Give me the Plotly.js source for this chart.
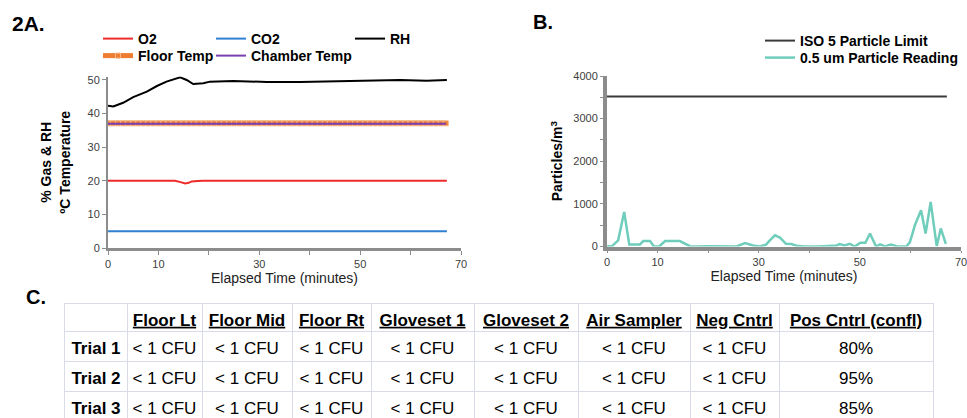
<!DOCTYPE html>
<html>
<head>
<meta charset="utf-8">
<script src="https://cdn.plot.ly/plotly-3.0.1.min.js"></script>
<style>
  html, body { margin: 0; padding: 0; background: #ffffff; }
  #chart { width: 967px; height: 418px; }
</style>
</head>
<body>
<div id="chart"></div>
<script>
// ---------- Panel A data (minutes, values) ----------
const rhMinutes = [0, 1.05, 3.0, 5.0, 7.7, 9.7, 11.6, 13.2, 14.3, 15.6, 16.9, 18.9, 20.2, 24.8, 31.5, 38.1, 44.6, 51.3, 57.9, 63.2, 67.2];
const rhValues  = [42.3, 42.1, 43.2, 44.9, 46.5, 48.2, 49.5, 50.4, 50.8, 50.0, 48.8, 49.0, 49.5, 49.7, 49.4, 49.4, 49.6, 49.9, 50.0, 49.8, 50.0];

const o2Minutes = [0, 13.3, 14.4, 15.3, 16.0, 16.6, 17.8, 18.9, 67.2];
const o2Values  = [20.0, 20.0, 19.6, 19.2, 19.4, 19.8, 19.9, 20.0, 20.0];

const co2Minutes = [0, 14.5, 15.5, 17.0, 18.0, 67.2];
const co2Values  = [5.0, 5.0, 4.8, 4.8, 5.0, 5.0];

const tempMinutes = [0,1,2,3,4,5,6,7,8,9,10,11,12,13,14,15,16,17,18,19,20,21,22,23,24,25,26,27,28,29,30,31,32,33,34,35,36,37,38,39,40,41,42,43,44,45,46,47,48,49,50,51,52,53,54,55,56,57,58,59,60,61,62,63,64,65,66,67];
const floorTemp = [37.1,37.1,37.1,37.1,37.1,37.1,37.1,37.1,37.1,37.1,37.1,37.1,37.1,37.1,37.1,37.1,37.1,37.1,37.1,37.1,37.1,37.1,37.1,37.1,37.1,37.1,37.1,37.1,37.1,37.1,37.1,37.1,37.1,37.1,37.1,37.1,37.1,37.1,37.1,37.1,37.1,37.1,37.1,37.1,37.1,37.1,37.1,37.1,37.1,37.1,37.1,37.1,37.1,37.1,37.1,37.1,37.1,37.1,37.1,37.1,37.1,37.1,37.1,37.1,37.1,37.1,37.1,37.1];
const chamberTemp = [37.0,37.0,37.0,37.0,37.0,37.0,37.0,37.0,37.0,37.0,37.0,37.0,37.0,37.0,37.0,37.0,37.0,37.0,37.0,37.0,37.0,37.0,37.0,37.0,37.0,37.0,37.0,37.0,37.0,37.0,37.0,37.0,37.0,37.0,37.0,37.0,37.0,37.0,37.0,37.0,37.0,37.0,37.0,37.0,37.0,37.0,37.0,37.0,37.0,37.0,37.0,37.0,37.0,37.0,37.0,37.0,37.0,37.0,37.0,37.0,37.0,37.0,37.0,37.0,37.0,37.0,37.0,37.0];

const aTickVals = [0, 10, 20, 30, 40, 50, 60, 70];
const aTickText = ['0', '10', '', '30', '', '50', '', '70'];
const aYTickVals = [0, 10, 20, 30, 40, 50];

// ---------- Panel B data ----------
const isoMinutes = [0, 67.2];
const isoLimit   = [3520, 3520];

const particleMinutes = [0, 1.0, 2.2, 3.4, 4.4, 6.5, 7.2, 8.5, 9.3, 10.3, 11.5, 14.4, 16.4, 18.0, 20.0, 22.0, 24.0, 25.6, 27.3, 28.9, 30.2, 31.4, 32.2, 33.2, 34.2, 35.4, 36.5, 37.5, 39.0, 42.0, 45.4, 46.0, 47.0, 48.0, 49.0, 50.1, 51.1, 52.0, 53.2, 54.0, 55.0, 56.1, 57.3, 58.2, 59.2, 59.9, 60.9, 62.1, 63.0, 64.0, 65.2, 66.0, 67.0];
const particleValues  = [0, 10, 144, 808, 48, 48, 128, 128, 0, 0, 128, 128, 8, 0, 8, 0, 0, 0, 80, 24, 0, 40, 144, 264, 208, 64, 56, 16, 0, 0, 24, 56, 24, 64, 0, 88, 88, 304, 0, 48, 0, 48, 8, 0, 0, 104, 504, 848, 304, 1048, 8, 424, 64];

const bTickVals = [0, 10, 20, 30, 40, 50, 60, 70];
const bTickText = ['0', '10', '', '30', '', '50', '', '70'];
const bYTickVals = [0, 500, 1000, 1500, 2000, 2500, 3000, 3500, 4000];
const bYTickText = ['0', '', '1000', '', '2000', '', '3000', '', '4000'];

// ---------- Panel C table data ----------
const sampleSites = ['Floor Lt', 'Floor Mid', 'Floor Rt', 'Gloveset 1', 'Gloveset 2', 'Air Sampler', 'Neg Cntrl', 'Pos Cntrl (confl)'];
const trials = ['Trial 1', 'Trial 2', 'Trial 3'];
const floorLt    = ['< 1 CFU', '< 1 CFU', '< 1 CFU'];
const floorMid   = ['< 1 CFU', '< 1 CFU', '< 1 CFU'];
const floorRt    = ['< 1 CFU', '< 1 CFU', '< 1 CFU'];
const gloveset1  = ['< 1 CFU', '< 1 CFU', '< 1 CFU'];
const gloveset2  = ['< 1 CFU', '< 1 CFU', '< 1 CFU'];
const airSampler = ['< 1 CFU', '< 1 CFU', '< 1 CFU'];
const negCntrl   = ['< 1 CFU', '< 1 CFU', '< 1 CFU'];
const posCntrl   = ['80%', '95%', '85%'];
const resultColumns = [floorLt, floorMid, floorRt, gloveset1, gloveset2, airSampler, negCntrl, posCntrl];

// ---------- table geometry (layout only) ----------
const colWidths = [62, 75, 90, 79, 103, 104, 112, 89, 154];   // pixels
const rowHeights = [27, 30, 30, 30];                           // header + 3 trials
const textDrop = 4;                                            // text sits slightly low in each row

const colEdges = [0];
colWidths.forEach(w => colEdges.push(colEdges[colEdges.length - 1] + w));
const colCenters = colWidths.map((w, i) => colEdges[i] + w / 2);
const rowEdges = [0];
rowHeights.forEach(h => rowEdges.push(rowEdges[rowEdges.length - 1] + h));
const rowCenters = rowHeights.map((h, i) => rowEdges[i] + h / 2 + textDrop);

// ---------- build ----------
const FONT = 'Liberation Sans, Arial, Helvetica, sans-serif';
const W = 967, H = 418;
const px = v => v / W;            // pixel x -> paper
const py = v => 1 - v / H;        // pixel y (from top) -> paper
const esc = s => s.replace(/</g, '&lt;');

const tableTop = 304, tableLeft = 65;
const tableVisible = H - tableTop;      // pixels of the table that fit in the picture
const tableFont = { family: FONT, size: 17, color: '#000000' };

// header cells
const headerX = sampleSites.map((s, i) => colCenters[i + 1]);
const headerY = sampleSites.map(() => rowCenters[0]);
const headerText = sampleSites.map(s => '<b><u>' + s + '</u></b>');
// row label cells
const labelX = trials.map(() => colCenters[0]);
const labelY = trials.map((t, r) => rowCenters[r + 1]);
const labelText = trials.map(t => '<b>' + t + '</b>');
// result cells
const cellX = [], cellY = [], cellText = [];
resultColumns.forEach((col, c) => col.forEach((v, r) => {
  cellX.push(colCenters[c + 1]); cellY.push(rowCenters[r + 1]); cellText.push(esc(v));
}));

const traces = [
  { type: 'scatter', mode: 'lines', name: 'O2', x: o2Minutes, y: o2Values,
    line: { color: '#ee2a2a', width: 2 }, xaxis: 'x', yaxis: 'y', legend: 'legend' },
  { type: 'scatter', mode: 'lines', name: 'CO2', x: co2Minutes, y: co2Values,
    line: { color: '#2f7fd2', width: 2 }, xaxis: 'x', yaxis: 'y', legend: 'legend2' },
  { type: 'scatter', mode: 'lines', name: 'RH', x: rhMinutes, y: rhValues,
    line: { color: '#000000', width: 2 }, xaxis: 'x', yaxis: 'y', legend: 'legend3' },
  { type: 'scatter', mode: 'lines+markers', name: 'Floor Temp', x: tempMinutes, y: floorTemp,
    line: { color: '#ee7d31', width: 5 },
    marker: { symbol: 'square', size: 5, color: '#ee7d31', line: { color: '#f6b98c', width: 1 } },
    xaxis: 'x', yaxis: 'y', legend: 'legend4' },
  { type: 'scatter', mode: 'lines', name: 'Chamber Temp', x: tempMinutes, y: chamberTemp,
    line: { color: '#7a3fb0', width: 2 }, xaxis: 'x', yaxis: 'y', legend: 'legend5' },

  { type: 'scatter', mode: 'lines', name: 'ISO 5 Particle Limit', x: isoMinutes, y: isoLimit,
    line: { color: '#3a3a3a', width: 2 }, xaxis: 'x2', yaxis: 'y2', legend: 'legend6' },
  { type: 'scatter', mode: 'lines', name: '0.5 um Particle Reading', x: particleMinutes, y: particleValues,
    line: { color: '#6fcdbb', width: 2.5 }, xaxis: 'x2', yaxis: 'y2', legend: 'legend7' },

  { type: 'scatter', mode: 'text', x: headerX, y: headerY, text: headerText, textposition: 'middle center',
    textfont: tableFont, cliponaxis: false, showlegend: false, hoverinfo: 'skip', xaxis: 'x3', yaxis: 'y3' },
  { type: 'scatter', mode: 'text', x: labelX, y: labelY, text: labelText, textposition: 'middle center',
    textfont: tableFont, cliponaxis: false, showlegend: false, hoverinfo: 'skip', xaxis: 'x3', yaxis: 'y3' },
  { type: 'scatter', mode: 'text', x: cellX, y: cellY, text: cellText, textposition: 'middle center',
    textfont: tableFont, cliponaxis: false, showlegend: false, hoverinfo: 'skip', xaxis: 'x3', yaxis: 'y3' }
];

const axisLine = '#8c8c8c';
const gridCol = '#d9dce8';
const tickFont = { family: FONT, size: 11, color: '#404040' };
const titleFont = { family: FONT, size: 14, color: '#222222' };
const legendFont = { family: FONT, size: 14, color: '#000000', weight: 'bold' };

function leg(xText, yCenter) {
  return { x: px(xText - 40), y: py(yCenter), xanchor: 'left', yanchor: 'middle',
           bgcolor: 'rgba(0,0,0,0)', borderwidth: 0, font: legendFont,
           orientation: 'v', tracegroupgap: 0 };
}

const layout = {
  width: W, height: H,
  margin: { l: 0, r: 0, t: 0, b: 0 },
  paper_bgcolor: '#ffffff', plot_bgcolor: '#ffffff',
  font: { family: FONT },
  showlegend: true,
  xaxis: {
    domain: [px(108), px(461)], range: [0, 70],
    tickvals: aTickVals, ticktext: aTickText, tickfont: tickFont,
    showline: true, linecolor: axisLine, linewidth: 3,
    ticks: 'outside', ticklen: 4, tickcolor: axisLine, tickwidth: 1,
    showgrid: false, zeroline: false, anchor: 'y',
    title: { text: 'Elapsed Time (minutes)', font: titleFont, standoff: 4 }
  },
  yaxis: {
    domain: [1 - 248 / H, 1 - 76.6 / H], range: [0, 51],
    tickvals: aYTickVals, tickfont: tickFont,
    showline: true, linecolor: axisLine, linewidth: 2,
    ticks: 'outside', ticklen: 4, tickcolor: axisLine, tickwidth: 1,
    showgrid: false, zeroline: false, anchor: 'x',
    title: { text: '<b>% Gas & RH<br>ºC Temperature</b>', font: { family: FONT, size: 14, color: '#000000' }, standoff: 14 }
  },
  xaxis2: {
    domain: [px(607), px(961)], range: [0, 70],
    tickvals: bTickVals, ticktext: bTickText, tickfont: tickFont,
    ticklabeloverflow: 'allow',
    showline: true, linecolor: axisLine, linewidth: 4,
    ticks: 'outside', ticklen: 2, tickcolor: axisLine, tickwidth: 1,
    showgrid: false, zeroline: false, anchor: 'y2',
    title: { text: 'Elapsed Time (minutes)', font: titleFont, standoff: 4 }
  },
  yaxis2: {
    domain: [1 - 246.5 / H, 1 - 76 / H], range: [0, 4000],
    tickvals: bYTickVals, ticktext: bYTickText, tickfont: tickFont,
    showline: true, linecolor: axisLine, linewidth: 4,
    ticks: 'outside', ticklen: 3, tickcolor: axisLine, tickwidth: 1,
    showgrid: false, zeroline: false, anchor: 'x2',
    title: { text: '<b>Particles/m<sup>3</sup></b>', font: { family: FONT, size: 14, color: '#000000' }, standoff: 8 }
  },
  // table grid: one data unit = one pixel
  xaxis3: {
    domain: [px(tableLeft), px(tableLeft + colEdges[colEdges.length - 1])],
    range: [0, colEdges[colEdges.length - 1]],
    tickvals: colEdges.slice(1, -1), showticklabels: false, ticks: '',
    showgrid: true, gridcolor: gridCol, gridwidth: 1,
    showline: true, linecolor: gridCol, linewidth: 1, side: 'top', mirror: false,
    zeroline: false, anchor: 'y3', fixedrange: true
  },
  yaxis3: {
    domain: [0, tableVisible / H], range: [tableVisible, 0],
    tickvals: rowEdges.slice(1, -1), showticklabels: false, ticks: '',
    showgrid: true, gridcolor: gridCol, gridwidth: 1,
    showline: true, linecolor: gridCol, linewidth: 1, mirror: true,
    zeroline: false, anchor: 'x3', fixedrange: true
  },
  legend:  leg(138, 39),
  legend2: leg(251, 39),
  legend3: leg(390, 39),
  legend4: leg(138, 56),
  legend5: leg(251, 56),
  legend6: leg(800, 41),
  legend7: leg(800, 58),
  annotations: [
    { text: '<b>2A.</b>', xref: 'paper', yref: 'paper', x: px(10), y: py(24), xanchor: 'left', yanchor: 'middle',
      showarrow: false, font: { family: FONT, size: 21, color: '#000000' } },
    { text: '<b>B.</b>', xref: 'paper', yref: 'paper', x: px(531), y: py(22), xanchor: 'left', yanchor: 'middle',
      showarrow: false, font: { family: FONT, size: 20, color: '#000000' } },
    { text: '<b>C.</b>', xref: 'paper', yref: 'paper', x: px(24), y: py(297), xanchor: 'left', yanchor: 'middle',
      showarrow: false, font: { family: FONT, size: 20, color: '#000000' } }
  ]
};

Plotly.newPlot('chart', traces, layout, { staticPlot: true, displayModeBar: false });
</script>
</body>
</html>
